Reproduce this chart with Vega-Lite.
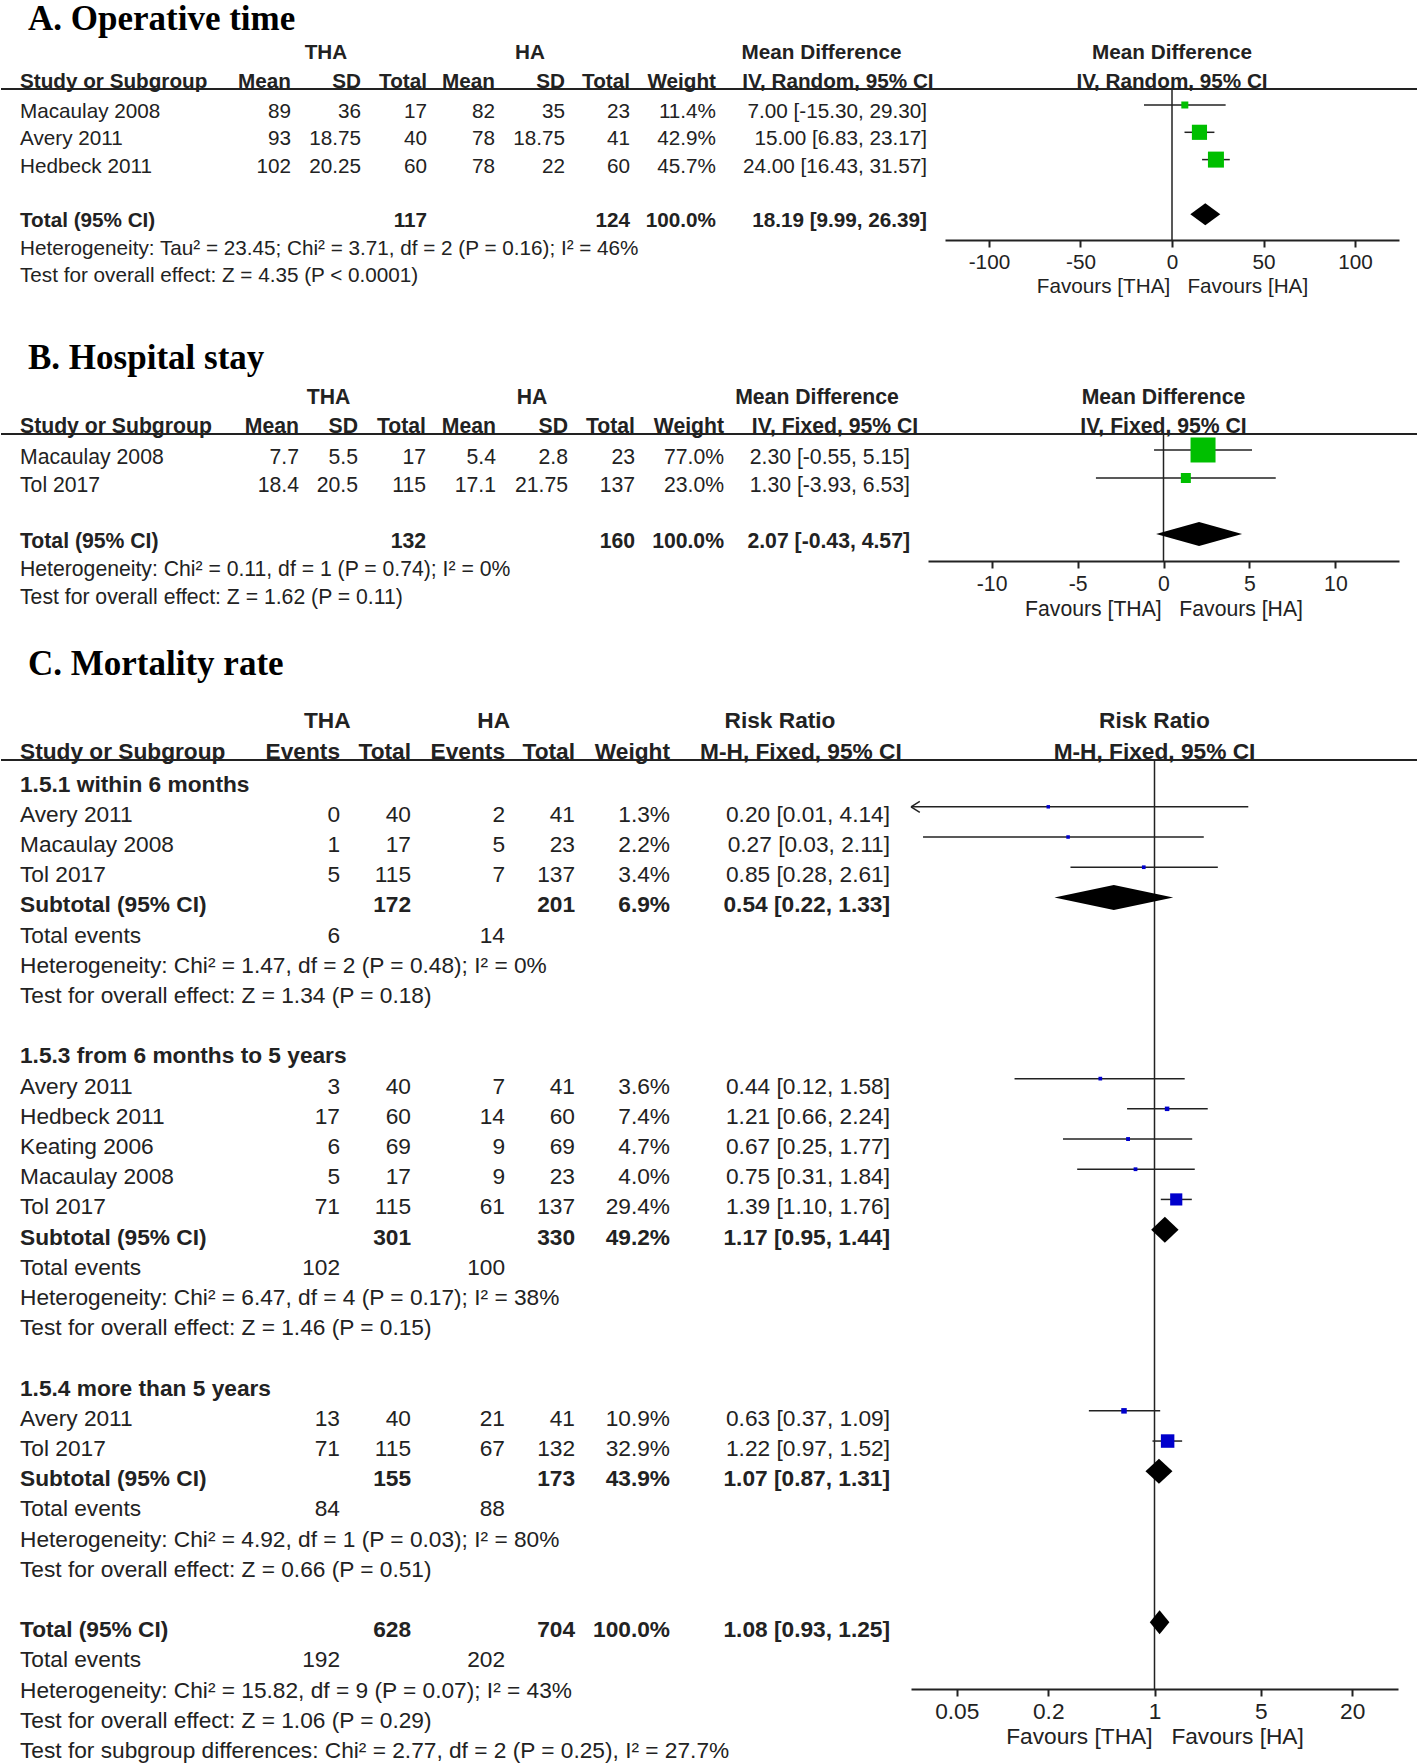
{
"$schema": "https://vega.github.io/schema/vega-lite/v6.json",
"padding": {"top": 2, "left": 0, "right": 0, "bottom": 0},
"bounds": "flush",
"spacing": 194,
"resolve": {"scale": {"size": "independent", "shape": "independent"}},
"config": {
  "view": {"stroke": null},
  "text": {"font": "Liberation Sans", "color": "#222", "baseline": "middle"},
  "axis": {"grid": false, "labelFont": "Liberation Sans", "titleFont": "Liberation Sans", "labelColor": "#222", "titleColor": "#222", "domainColor": "#222", "tickColor": "#222"}
},
"datasets": {
  "A": [
    {"row": 0, "label": "Macaulay 2008", "m1": 89, "sd1": 36, "n1": 17, "m2": 82, "sd2": 35, "n2": 23, "w": 0.114, "ci": "7.00 [-15.30, 29.30]", "est": 7.00, "lo": -15.30, "hi": 29.30, "kind": "study"},
    {"row": 1, "label": "Avery 2011", "m1": 93, "sd1": 18.75, "n1": 40, "m2": 78, "sd2": 18.75, "n2": 41, "w": 0.429, "ci": "15.00 [6.83, 23.17]", "est": 15.00, "lo": 6.83, "hi": 23.17, "kind": "study"},
    {"row": 2, "label": "Hedbeck 2011", "m1": 102, "sd1": 20.25, "n1": 60, "m2": 78, "sd2": 22, "n2": 60, "w": 0.457, "ci": "24.00 [16.43, 31.57]", "est": 24.00, "lo": 16.43, "hi": 31.57, "kind": "study"},
    {"row": 4, "label": "Total (95% CI)", "bold": true, "n1": 117, "n2": 124, "w": 1, "ci": "18.19 [9.99, 26.39]", "est": 18.19, "lo": 9.99, "hi": 26.39, "kind": "sum"},
    {"row": 5, "label": "Heterogeneity: Tau² = 23.45; Chi² = 3.71, df = 2 (P = 0.16); I² = 46%"},
    {"row": 6, "label": "Test for overall effect: Z = 4.35 (P < 0.0001)"}
  ],
  "B": [
    {"row": 0, "label": "Macaulay 2008", "m1": 7.7, "sd1": 5.5, "n1": 17, "m2": 5.4, "sd2": 2.8, "n2": 23, "w": 0.77, "ci": "2.30 [-0.55, 5.15]", "est": 2.30, "lo": -0.55, "hi": 5.15, "kind": "study"},
    {"row": 1, "label": "Tol 2017", "m1": 18.4, "sd1": 20.5, "n1": 115, "m2": 17.1, "sd2": 21.75, "n2": 137, "w": 0.23, "ci": "1.30 [-3.93, 6.53]", "est": 1.30, "lo": -3.93, "hi": 6.53, "kind": "study"},
    {"row": 3, "label": "Total (95% CI)", "bold": true, "n1": 132, "n2": 160, "w": 1, "ci": "2.07 [-0.43, 4.57]", "est": 2.07, "lo": -0.43, "hi": 4.57, "kind": "sum"},
    {"row": 4, "label": "Heterogeneity: Chi² = 0.11, df = 1 (P = 0.74); I² = 0%"},
    {"row": 5, "label": "Test for overall effect: Z = 1.62 (P = 0.11)"}
  ],
  "C": [
    {"row": 0, "label": "1.5.1 within 6 months", "bold": true},
    {"row": 1, "label": "Avery 2011", "ev1": 0, "n1": 40, "ev2": 2, "n2": 41, "w": 0.013, "ci": "0.20 [0.01, 4.14]", "est": 0.20, "lo": 0.01, "hi": 4.14, "kind": "study"},
    {"row": 2, "label": "Macaulay 2008", "ev1": 1, "n1": 17, "ev2": 5, "n2": 23, "w": 0.022, "ci": "0.27 [0.03, 2.11]", "est": 0.27, "lo": 0.03, "hi": 2.11, "kind": "study"},
    {"row": 3, "label": "Tol 2017", "ev1": 5, "n1": 115, "ev2": 7, "n2": 137, "w": 0.034, "ci": "0.85 [0.28, 2.61]", "est": 0.85, "lo": 0.28, "hi": 2.61, "kind": "study"},
    {"row": 4, "label": "Subtotal (95% CI)", "bold": true, "n1": 172, "n2": 201, "w": 0.069, "ci": "0.54 [0.22, 1.33]", "est": 0.54, "lo": 0.22, "hi": 1.33, "kind": "sum"},
    {"row": 5, "label": "Total events", "ev1": 6, "ev2": 14},
    {"row": 6, "label": "Heterogeneity: Chi² = 1.47, df = 2 (P = 0.48); I² = 0%"},
    {"row": 7, "label": "Test for overall effect: Z = 1.34 (P = 0.18)"},
    {"row": 9, "label": "1.5.3 from 6 months to 5 years", "bold": true},
    {"row": 10, "label": "Avery 2011", "ev1": 3, "n1": 40, "ev2": 7, "n2": 41, "w": 0.036, "ci": "0.44 [0.12, 1.58]", "est": 0.44, "lo": 0.12, "hi": 1.58, "kind": "study"},
    {"row": 11, "label": "Hedbeck 2011", "ev1": 17, "n1": 60, "ev2": 14, "n2": 60, "w": 0.074, "ci": "1.21 [0.66, 2.24]", "est": 1.21, "lo": 0.66, "hi": 2.24, "kind": "study"},
    {"row": 12, "label": "Keating 2006", "ev1": 6, "n1": 69, "ev2": 9, "n2": 69, "w": 0.047, "ci": "0.67 [0.25, 1.77]", "est": 0.67, "lo": 0.25, "hi": 1.77, "kind": "study"},
    {"row": 13, "label": "Macaulay 2008", "ev1": 5, "n1": 17, "ev2": 9, "n2": 23, "w": 0.040, "ci": "0.75 [0.31, 1.84]", "est": 0.75, "lo": 0.31, "hi": 1.84, "kind": "study"},
    {"row": 14, "label": "Tol 2017", "ev1": 71, "n1": 115, "ev2": 61, "n2": 137, "w": 0.294, "ci": "1.39 [1.10, 1.76]", "est": 1.39, "lo": 1.10, "hi": 1.76, "kind": "study"},
    {"row": 15, "label": "Subtotal (95% CI)", "bold": true, "n1": 301, "n2": 330, "w": 0.492, "ci": "1.17 [0.95, 1.44]", "est": 1.17, "lo": 0.95, "hi": 1.44, "kind": "sum"},
    {"row": 16, "label": "Total events", "ev1": 102, "ev2": 100},
    {"row": 17, "label": "Heterogeneity: Chi² = 6.47, df = 4 (P = 0.17); I² = 38%"},
    {"row": 18, "label": "Test for overall effect: Z = 1.46 (P = 0.15)"},
    {"row": 20, "label": "1.5.4 more than 5 years", "bold": true},
    {"row": 21, "label": "Avery 2011", "ev1": 13, "n1": 40, "ev2": 21, "n2": 41, "w": 0.109, "ci": "0.63 [0.37, 1.09]", "est": 0.63, "lo": 0.37, "hi": 1.09, "kind": "study"},
    {"row": 22, "label": "Tol 2017", "ev1": 71, "n1": 115, "ev2": 67, "n2": 132, "w": 0.329, "ci": "1.22 [0.97, 1.52]", "est": 1.22, "lo": 0.97, "hi": 1.52, "kind": "study"},
    {"row": 23, "label": "Subtotal (95% CI)", "bold": true, "n1": 155, "n2": 173, "w": 0.439, "ci": "1.07 [0.87, 1.31]", "est": 1.07, "lo": 0.87, "hi": 1.31, "kind": "sum"},
    {"row": 24, "label": "Total events", "ev1": 84, "ev2": 88},
    {"row": 25, "label": "Heterogeneity: Chi² = 4.92, df = 1 (P = 0.03); I² = 80%"},
    {"row": 26, "label": "Test for overall effect: Z = 0.66 (P = 0.51)"},
    {"row": 28, "label": "Total (95% CI)", "bold": true, "n1": 628, "n2": 704, "w": 1, "ci": "1.08 [0.93, 1.25]", "est": 1.08, "lo": 0.93, "hi": 1.25, "kind": "sum"},
    {"row": 29, "label": "Total events", "ev1": 192, "ev2": 202},
    {"row": 30, "label": "Heterogeneity: Chi² = 15.82, df = 9 (P = 0.07); I² = 43%"},
    {"row": 31, "label": "Test for overall effect: Z = 1.06 (P = 0.29)"},
    {"row": 32, "label": "Test for subgroup differences: Chi² = 2.77, df = 2 (P = 0.25), I² = 27.7%"}
  ]
},
"vconcat": [
{
  "width": 1416, "height": 151,
  "resolve": {"scale": {"x": "independent"}},
  "layer": [
    {"data": {"values": [{}]}, "mark": {"type": "text", "align": "left", "dx": 8, "font": "Liberation Serif", "fontSize": 35, "fontWeight": "bold", "color": "#000"},
     "encoding": {"x": {"datum": 0, "type": "quantitative", "scale": {"type": "linear", "domain": [0, 1, 2, 3, 4, 5, 6, 7, 8], "range": [19, 290, 360, 426, 494, 564, 629, 715, 926], "nice": false, "zero": false}, "axis": null}, "y": {"datum": -3.15, "type": "quantitative", "axis": null}, "text": {"value": "A. Operative time"}}},
    {"data": {"values": [{}]}, "mark": {"type": "rule", "color": "#222", "strokeWidth": 2},
     "encoding": {"y": {"datum": -0.586, "type": "quantitative", "axis": null}}},
    {"data": {"name": "A"}, "transform": [{"filter": "isValid(datum.label)"}],
     "mark": {"type": "text", "align": "left", "dy": 7, "fontSize": 20.7, "fontWeight": {"expr": "datum.bold ? 'bold' : 'normal'"}},
     "encoding": {
       "x": {"datum": 0, "type": "quantitative", "scale": {"type": "linear", "domain": [0, 1, 2, 3, 4, 5, 6, 7, 8], "range": [19, 290, 360, 426, 494, 564, 629, 715, 926], "nice": false, "zero": false}, "axis": null},
       "y": {"field": "row", "type": "quantitative", "scale": {"domain": [-0.586, 4.945], "reverse": true, "nice": false, "zero": false}, "axis": null},
       "text": {"field": "label", "type": "nominal"}}},
    {"data": {"name": "A"}, "transform": [{"filter": "isValid(datum.m1)"}], "mark": {"type": "text", "align": "right", "dy": 7, "fontSize": 20.7},
     "encoding": {"x": {"datum": 1, "type": "quantitative", "scale": {"type": "linear", "domain": [0, 1, 2, 3, 4, 5, 6, 7, 8], "range": [19, 290, 360, 426, 494, 564, 629, 715, 926], "nice": false, "zero": false}, "axis": null}, "y": {"field": "row", "type": "quantitative", "axis": null}, "text": {"field": "m1", "type": "nominal"}}},
    {"data": {"name": "A"}, "transform": [{"filter": "isValid(datum.sd1)"}], "mark": {"type": "text", "align": "right", "dy": 7, "fontSize": 20.7},
     "encoding": {"x": {"datum": 2, "type": "quantitative", "scale": {"type": "linear", "domain": [0, 1, 2, 3, 4, 5, 6, 7, 8], "range": [19, 290, 360, 426, 494, 564, 629, 715, 926], "nice": false, "zero": false}, "axis": null}, "y": {"field": "row", "type": "quantitative", "axis": null}, "text": {"field": "sd1", "type": "nominal"}}},
    {"data": {"name": "A"}, "transform": [{"filter": "isValid(datum.n1)"}], "mark": {"type": "text", "align": "right", "dy": 7, "fontSize": 20.7, "fontWeight": {"expr": "datum.bold ? 'bold' : 'normal'"}},
     "encoding": {"x": {"datum": 3, "type": "quantitative", "scale": {"type": "linear", "domain": [0, 1, 2, 3, 4, 5, 6, 7, 8], "range": [19, 290, 360, 426, 494, 564, 629, 715, 926], "nice": false, "zero": false}, "axis": null}, "y": {"field": "row", "type": "quantitative", "axis": null}, "text": {"field": "n1", "type": "nominal"}}},
    {"data": {"name": "A"}, "transform": [{"filter": "isValid(datum.m2)"}], "mark": {"type": "text", "align": "right", "dy": 7, "fontSize": 20.7},
     "encoding": {"x": {"datum": 4, "type": "quantitative", "scale": {"type": "linear", "domain": [0, 1, 2, 3, 4, 5, 6, 7, 8], "range": [19, 290, 360, 426, 494, 564, 629, 715, 926], "nice": false, "zero": false}, "axis": null}, "y": {"field": "row", "type": "quantitative", "axis": null}, "text": {"field": "m2", "type": "nominal"}}},
    {"data": {"name": "A"}, "transform": [{"filter": "isValid(datum.sd2)"}], "mark": {"type": "text", "align": "right", "dy": 7, "fontSize": 20.7},
     "encoding": {"x": {"datum": 5, "type": "quantitative", "scale": {"type": "linear", "domain": [0, 1, 2, 3, 4, 5, 6, 7, 8], "range": [19, 290, 360, 426, 494, 564, 629, 715, 926], "nice": false, "zero": false}, "axis": null}, "y": {"field": "row", "type": "quantitative", "axis": null}, "text": {"field": "sd2", "type": "nominal"}}},
    {"data": {"name": "A"}, "transform": [{"filter": "isValid(datum.n2)"}], "mark": {"type": "text", "align": "right", "dy": 7, "fontSize": 20.7, "fontWeight": {"expr": "datum.bold ? 'bold' : 'normal'"}},
     "encoding": {"x": {"datum": 6, "type": "quantitative", "scale": {"type": "linear", "domain": [0, 1, 2, 3, 4, 5, 6, 7, 8], "range": [19, 290, 360, 426, 494, 564, 629, 715, 926], "nice": false, "zero": false}, "axis": null}, "y": {"field": "row", "type": "quantitative", "axis": null}, "text": {"field": "n2", "type": "nominal"}}},
    {"data": {"name": "A"}, "transform": [{"filter": "isValid(datum.w)"}], "mark": {"type": "text", "align": "right", "dy": 7, "fontSize": 20.7, "fontWeight": {"expr": "datum.bold ? 'bold' : 'normal'"}},
     "encoding": {"x": {"datum": 7, "type": "quantitative", "scale": {"type": "linear", "domain": [0, 1, 2, 3, 4, 5, 6, 7, 8], "range": [19, 290, 360, 426, 494, 564, 629, 715, 926], "nice": false, "zero": false}, "axis": null}, "y": {"field": "row", "type": "quantitative", "axis": null}, "text": {"field": "w", "type": "quantitative", "format": ".1%"}}},
    {"data": {"name": "A"}, "transform": [{"filter": "isValid(datum.ci)"}], "mark": {"type": "text", "align": "right", "dy": 7, "fontSize": 20.7, "fontWeight": {"expr": "datum.bold ? 'bold' : 'normal'"}},
     "encoding": {"x": {"datum": 8, "type": "quantitative", "scale": {"type": "linear", "domain": [0, 1, 2, 3, 4, 5, 6, 7, 8], "range": [19, 290, 360, 426, 494, 564, 629, 715, 926], "nice": false, "zero": false}, "axis": null}, "y": {"field": "row", "type": "quantitative", "axis": null}, "text": {"field": "ci", "type": "nominal"}}},
    {"data": {"values": [{"t": "THA", "s": 1.5}, {"t": "HA", "s": 4.5}, {"t": "Mean Difference", "s": 7.5}]}, "mark": {"type": "text", "align": "center", "fontSize": 20.7, "fontWeight": "bold"},
     "encoding": {"x": {"field": "s", "type": "quantitative", "scale": {"type": "linear", "domain": [0, 1, 2, 3, 4, 5, 6, 7, 8], "range": [19, 290, 360, 426, 494, 564, 629, 715, 926], "nice": false, "zero": false}, "axis": null}, "y": {"datum": -1.905, "type": "quantitative", "axis": null}, "text": {"field": "t", "type": "nominal"}}},
    {"data": {"values": [{"t": "Study or Subgroup", "s": 0}]}, "mark": {"type": "text", "align": "left", "baseline": "alphabetic", "dy": -1, "fontSize": 20.7, "fontWeight": "bold"},
     "encoding": {"x": {"field": "s", "type": "quantitative", "scale": {"type": "linear", "domain": [0, 1, 2, 3, 4, 5, 6, 7, 8], "range": [19, 290, 360, 426, 494, 564, 629, 715, 926], "nice": false, "zero": false}, "axis": null}, "y": {"datum": -0.586, "type": "quantitative", "axis": null}, "text": {"field": "t", "type": "nominal"}}},
    {"data": {"values": [{"t": "Mean", "s": 1}, {"t": "SD", "s": 2}, {"t": "Total", "s": 3}, {"t": "Mean", "s": 4}, {"t": "SD", "s": 5}, {"t": "Total", "s": 6}, {"t": "Weight", "s": 7}]}, "mark": {"type": "text", "align": "right", "baseline": "alphabetic", "dy": -1, "fontSize": 20.7, "fontWeight": "bold"},
     "encoding": {"x": {"field": "s", "type": "quantitative", "scale": {"type": "linear", "domain": [0, 1, 2, 3, 4, 5, 6, 7, 8], "range": [19, 290, 360, 426, 494, 564, 629, 715, 926], "nice": false, "zero": false}, "axis": null}, "y": {"datum": -0.586, "type": "quantitative", "axis": null}, "text": {"field": "t", "type": "nominal"}}},
    {"data": {"values": [{"t": "IV, Random, 95% CI", "s": 7.578}]}, "mark": {"type": "text", "align": "center", "baseline": "alphabetic", "dy": -1, "fontSize": 20.7, "fontWeight": "bold"},
     "encoding": {"x": {"field": "s", "type": "quantitative", "scale": {"type": "linear", "domain": [0, 1, 2, 3, 4, 5, 6, 7, 8], "range": [19, 290, 360, 426, 494, 564, 629, 715, 926], "nice": false, "zero": false}, "axis": null}, "y": {"datum": -0.586, "type": "quantitative", "axis": null}, "text": {"field": "t", "type": "nominal"}}},
    {"data": {"name": "A"}, "transform": [{"filter": "datum.kind == 'study'"}], "mark": {"type": "rule", "color": "#222", "strokeWidth": 1.5},
     "encoding": {"x": {"field": "lo", "type": "quantitative",
       "scale": {"type": "linear", "domain": [-124, 124], "range": [944, 1398], "nice": false, "zero": false},
       "axis": {"orient": "bottom", "values": [-100, -50, 0, 50, 100], "labelExpr": "'' + datum.value", "domainWidth": 2, "tickWidth": 2, "tickSize": 7, "labelFontSize": 20.7, "labelPadding": 5, "labelFlush": false, "labelOverlap": false, "title": "Favours [THA]\u00a0\u00a0 Favours [HA]", "titleFontSize": 20.7, "titleFontWeight": "normal", "titlePadding": 5}},
       "x2": {"field": "hi"}, "y": {"field": "row", "type": "quantitative", "axis": null}}},
    {"data": {"values": [{}]}, "mark": {"type": "rule", "color": "#222", "strokeWidth": 1.5},
     "encoding": {"x": {"datum": 0, "type": "quantitative", "scale": {"type": "linear", "domain": [-124, 124], "range": [944, 1398], "nice": false, "zero": false}, "axis": null}}},
    {"data": {"name": "A"}, "transform": [{"filter": "datum.kind == 'study'"}], "mark": {"type": "square", "color": "#00bf00", "opacity": 1},
     "encoding": {"x": {"field": "est", "type": "quantitative", "scale": {"type": "linear", "domain": [-124, 124], "range": [944, 1398], "nice": false, "zero": false}, "axis": null}, "y": {"field": "row", "type": "quantitative", "axis": null},
       "size": {"field": "w", "type": "quantitative", "scale": {"type": "pow", "exponent": 2, "domain": [0.114, 0.457], "range": [49, 256]}, "legend": null}}},
    {"data": {"name": "A"}, "transform": [{"filter": "datum.kind == 'sum'"}],
     "mark": {"type": "point", "filled": true, "size": 4, "color": "#000", "opacity": 1},
     "encoding": {"x": {"field": "est", "type": "quantitative", "scale": {"type": "linear", "domain": [-124, 124], "range": [944, 1398], "nice": false, "zero": false}, "axis": null}, "y": {"field": "row", "type": "quantitative", "axis": null},
       "shape": {"field": "row", "type": "nominal", "scale": {"domain": [4], "range": ["M-15,0L0,-11L15,0L0,11Z"]}, "legend": null}}},
    {"data": {"values": [{"t": "Mean Difference", "v": 0}]}, "mark": {"type": "text", "align": "center", "fontSize": 20.7, "fontWeight": "bold"},
     "encoding": {"x": {"field": "v", "type": "quantitative", "scale": {"type": "linear", "domain": [-124, 124], "range": [944, 1398], "nice": false, "zero": false}, "axis": null}, "y": {"datum": -1.905, "type": "quantitative", "axis": null}, "text": {"field": "t", "type": "nominal"}}},
    {"data": {"values": [{"t": "IV, Random, 95% CI", "v": 0}]}, "mark": {"type": "text", "align": "center", "baseline": "alphabetic", "dy": -1, "fontSize": 20.7, "fontWeight": "bold"},
     "encoding": {"x": {"field": "v", "type": "quantitative", "scale": {"type": "linear", "domain": [-124, 124], "range": [944, 1398], "nice": false, "zero": false}, "axis": null}, "y": {"datum": -0.586, "type": "quantitative", "axis": null}, "text": {"field": "t", "type": "nominal"}}}
  ]
},
{
  "bounds": "flush",
  "spacing": 199,
  "resolve": {"scale": {"size": "independent", "shape": "independent"}},
  "vconcat": [
  {
    "width": 1416, "height": 127,
    "resolve": {"scale": {"x": "independent"}},
    "layer": [
      {"data": {"values": [{}]}, "mark": {"type": "text", "align": "left", "dx": 8, "font": "Liberation Serif", "fontSize": 35, "fontWeight": "bold", "color": "#000"},
       "encoding": {"x": {"datum": 0, "type": "quantitative", "scale": {"type": "linear", "domain": [0, 1, 2, 3, 4, 5, 6, 7, 8], "range": [19, 298, 357, 425, 495, 567, 634, 723, 909], "nice": false, "zero": false}, "axis": null}, "y": {"datum": -3.29, "type": "quantitative", "axis": null}, "text": {"value": "B. Hospital stay"}}},
      {"data": {"values": [{}]}, "mark": {"type": "rule", "color": "#222", "strokeWidth": 2},
       "encoding": {"y": {"datum": -0.571, "type": "quantitative", "axis": null}}},
      {"data": {"name": "B"}, "transform": [{"filter": "isValid(datum.label)"}],
       "mark": {"type": "text", "align": "left", "dy": 8, "fontSize": 21.2, "fontWeight": {"expr": "datum.bold ? 'bold' : 'normal'"}},
       "encoding": {
         "x": {"datum": 0, "type": "quantitative", "scale": {"type": "linear", "domain": [0, 1, 2, 3, 4, 5, 6, 7, 8], "range": [19, 298, 357, 425, 495, 567, 634, 723, 909], "nice": false, "zero": false}, "axis": null},
         "y": {"field": "row", "type": "quantitative", "scale": {"domain": [-0.571, 3.964], "reverse": true, "nice": false, "zero": false}, "axis": null},
         "text": {"field": "label", "type": "nominal"}}},
      {"data": {"name": "B"}, "transform": [{"filter": "isValid(datum.m1)"}], "mark": {"type": "text", "align": "right", "dy": 8, "fontSize": 21.2},
       "encoding": {"x": {"datum": 1, "type": "quantitative", "scale": {"type": "linear", "domain": [0, 1, 2, 3, 4, 5, 6, 7, 8], "range": [19, 298, 357, 425, 495, 567, 634, 723, 909], "nice": false, "zero": false}, "axis": null}, "y": {"field": "row", "type": "quantitative", "axis": null}, "text": {"field": "m1", "type": "nominal"}}},
      {"data": {"name": "B"}, "transform": [{"filter": "isValid(datum.sd1)"}], "mark": {"type": "text", "align": "right", "dy": 8, "fontSize": 21.2},
       "encoding": {"x": {"datum": 2, "type": "quantitative", "scale": {"type": "linear", "domain": [0, 1, 2, 3, 4, 5, 6, 7, 8], "range": [19, 298, 357, 425, 495, 567, 634, 723, 909], "nice": false, "zero": false}, "axis": null}, "y": {"field": "row", "type": "quantitative", "axis": null}, "text": {"field": "sd1", "type": "nominal"}}},
      {"data": {"name": "B"}, "transform": [{"filter": "isValid(datum.n1)"}], "mark": {"type": "text", "align": "right", "dy": 8, "fontSize": 21.2, "fontWeight": {"expr": "datum.bold ? 'bold' : 'normal'"}},
       "encoding": {"x": {"datum": 3, "type": "quantitative", "scale": {"type": "linear", "domain": [0, 1, 2, 3, 4, 5, 6, 7, 8], "range": [19, 298, 357, 425, 495, 567, 634, 723, 909], "nice": false, "zero": false}, "axis": null}, "y": {"field": "row", "type": "quantitative", "axis": null}, "text": {"field": "n1", "type": "nominal"}}},
      {"data": {"name": "B"}, "transform": [{"filter": "isValid(datum.m2)"}], "mark": {"type": "text", "align": "right", "dy": 8, "fontSize": 21.2},
       "encoding": {"x": {"datum": 4, "type": "quantitative", "scale": {"type": "linear", "domain": [0, 1, 2, 3, 4, 5, 6, 7, 8], "range": [19, 298, 357, 425, 495, 567, 634, 723, 909], "nice": false, "zero": false}, "axis": null}, "y": {"field": "row", "type": "quantitative", "axis": null}, "text": {"field": "m2", "type": "nominal"}}},
      {"data": {"name": "B"}, "transform": [{"filter": "isValid(datum.sd2)"}], "mark": {"type": "text", "align": "right", "dy": 8, "fontSize": 21.2},
       "encoding": {"x": {"datum": 5, "type": "quantitative", "scale": {"type": "linear", "domain": [0, 1, 2, 3, 4, 5, 6, 7, 8], "range": [19, 298, 357, 425, 495, 567, 634, 723, 909], "nice": false, "zero": false}, "axis": null}, "y": {"field": "row", "type": "quantitative", "axis": null}, "text": {"field": "sd2", "type": "nominal"}}},
      {"data": {"name": "B"}, "transform": [{"filter": "isValid(datum.n2)"}], "mark": {"type": "text", "align": "right", "dy": 8, "fontSize": 21.2, "fontWeight": {"expr": "datum.bold ? 'bold' : 'normal'"}},
       "encoding": {"x": {"datum": 6, "type": "quantitative", "scale": {"type": "linear", "domain": [0, 1, 2, 3, 4, 5, 6, 7, 8], "range": [19, 298, 357, 425, 495, 567, 634, 723, 909], "nice": false, "zero": false}, "axis": null}, "y": {"field": "row", "type": "quantitative", "axis": null}, "text": {"field": "n2", "type": "nominal"}}},
      {"data": {"name": "B"}, "transform": [{"filter": "isValid(datum.w)"}], "mark": {"type": "text", "align": "right", "dy": 8, "fontSize": 21.2, "fontWeight": {"expr": "datum.bold ? 'bold' : 'normal'"}},
       "encoding": {"x": {"datum": 7, "type": "quantitative", "scale": {"type": "linear", "domain": [0, 1, 2, 3, 4, 5, 6, 7, 8], "range": [19, 298, 357, 425, 495, 567, 634, 723, 909], "nice": false, "zero": false}, "axis": null}, "y": {"field": "row", "type": "quantitative", "axis": null}, "text": {"field": "w", "type": "quantitative", "format": ".1%"}}},
      {"data": {"name": "B"}, "transform": [{"filter": "isValid(datum.ci)"}], "mark": {"type": "text", "align": "right", "dy": 8, "fontSize": 21.2, "fontWeight": {"expr": "datum.bold ? 'bold' : 'normal'"}},
       "encoding": {"x": {"datum": 8, "type": "quantitative", "scale": {"type": "linear", "domain": [0, 1, 2, 3, 4, 5, 6, 7, 8], "range": [19, 298, 357, 425, 495, 567, 634, 723, 909], "nice": false, "zero": false}, "axis": null}, "y": {"field": "row", "type": "quantitative", "axis": null}, "text": {"field": "ci", "type": "nominal"}}},
      {"data": {"values": [{"t": "THA", "s": 1.5}, {"t": "HA", "s": 4.5}, {"t": "Mean Difference", "s": 7.5}]}, "mark": {"type": "text", "align": "center", "fontSize": 21.2, "fontWeight": "bold"},
       "encoding": {"x": {"field": "s", "type": "quantitative", "scale": {"type": "linear", "domain": [0, 1, 2, 3, 4, 5, 6, 7, 8], "range": [19, 298, 357, 425, 495, 567, 634, 723, 909], "nice": false, "zero": false}, "axis": null}, "y": {"datum": -1.857, "type": "quantitative", "axis": null}, "text": {"field": "t", "type": "nominal"}}},
      {"data": {"values": [{"t": "Study or Subgroup", "s": 0}]}, "mark": {"type": "text", "align": "left", "baseline": "alphabetic", "dy": -1, "fontSize": 21.2, "fontWeight": "bold"},
       "encoding": {"x": {"field": "s", "type": "quantitative", "scale": {"type": "linear", "domain": [0, 1, 2, 3, 4, 5, 6, 7, 8], "range": [19, 298, 357, 425, 495, 567, 634, 723, 909], "nice": false, "zero": false}, "axis": null}, "y": {"datum": -0.571, "type": "quantitative", "axis": null}, "text": {"field": "t", "type": "nominal"}}},
      {"data": {"values": [{"t": "Mean", "s": 1}, {"t": "SD", "s": 2}, {"t": "Total", "s": 3}, {"t": "Mean", "s": 4}, {"t": "SD", "s": 5}, {"t": "Total", "s": 6}, {"t": "Weight", "s": 7}]}, "mark": {"type": "text", "align": "right", "baseline": "alphabetic", "dy": -1, "fontSize": 21.2, "fontWeight": "bold"},
       "encoding": {"x": {"field": "s", "type": "quantitative", "scale": {"type": "linear", "domain": [0, 1, 2, 3, 4, 5, 6, 7, 8], "range": [19, 298, 357, 425, 495, 567, 634, 723, 909], "nice": false, "zero": false}, "axis": null}, "y": {"datum": -0.571, "type": "quantitative", "axis": null}, "text": {"field": "t", "type": "nominal"}}},
      {"data": {"values": [{"t": "IV, Fixed, 95% CI", "s": 7.597}]}, "mark": {"type": "text", "align": "center", "baseline": "alphabetic", "dy": -1, "fontSize": 21.2, "fontWeight": "bold"},
       "encoding": {"x": {"field": "s", "type": "quantitative", "scale": {"type": "linear", "domain": [0, 1, 2, 3, 4, 5, 6, 7, 8], "range": [19, 298, 357, 425, 495, 567, 634, 723, 909], "nice": false, "zero": false}, "axis": null}, "y": {"datum": -0.571, "type": "quantitative", "axis": null}, "text": {"field": "t", "type": "nominal"}}},
      {"data": {"name": "B"}, "transform": [{"filter": "datum.kind == 'study'"}], "mark": {"type": "rule", "color": "#222", "strokeWidth": 1.5},
       "encoding": {"x": {"field": "lo", "type": "quantitative",
         "scale": {"type": "linear", "domain": [-13.7, 13.7], "range": [927, 1398], "nice": false, "zero": false},
         "axis": {"orient": "bottom", "values": [-10, -5, 0, 5, 10], "labelExpr": "'' + datum.value", "domainWidth": 2, "tickWidth": 2, "tickSize": 7, "labelFontSize": 21.2, "labelPadding": 5, "labelFlush": false, "labelOverlap": false, "title": "Favours [THA]\u00a0\u00a0 Favours [HA]", "titleFontSize": 21.2, "titleFontWeight": "normal", "titlePadding": 4}},
         "x2": {"field": "hi"}, "y": {"field": "row", "type": "quantitative", "axis": null}}},
      {"data": {"values": [{}]}, "mark": {"type": "rule", "color": "#222", "strokeWidth": 1.5},
       "encoding": {"x": {"datum": 0, "type": "quantitative", "scale": {"type": "linear", "domain": [-13.7, 13.7], "range": [927, 1398], "nice": false, "zero": false}, "axis": null}}},
      {"data": {"name": "B"}, "transform": [{"filter": "datum.kind == 'study'"}], "mark": {"type": "square", "color": "#00bf00", "opacity": 1},
       "encoding": {"x": {"field": "est", "type": "quantitative", "scale": {"type": "linear", "domain": [-13.7, 13.7], "range": [927, 1398], "nice": false, "zero": false}, "axis": null}, "y": {"field": "row", "type": "quantitative", "axis": null},
         "size": {"field": "w", "type": "quantitative", "scale": {"domain": [0.23, 0.77], "range": [100, 625], "zero": false}, "legend": null}}},
      {"data": {"name": "B"}, "transform": [{"filter": "datum.kind == 'sum'"}],
       "mark": {"type": "point", "filled": true, "size": 4, "color": "#000", "opacity": 1},
       "encoding": {"x": {"field": "est", "type": "quantitative", "scale": {"type": "linear", "domain": [-13.7, 13.7], "range": [927, 1398], "nice": false, "zero": false}, "axis": null}, "y": {"field": "row", "type": "quantitative", "axis": null},
         "shape": {"field": "row", "type": "nominal", "scale": {"domain": [3], "range": ["M-43,0L0,-12L43,0L0,12Z"]}, "legend": null}}},
      {"data": {"values": [{"t": "Mean Difference", "v": 0}]}, "mark": {"type": "text", "align": "center", "fontSize": 21.2, "fontWeight": "bold"},
       "encoding": {"x": {"field": "v", "type": "quantitative", "scale": {"type": "linear", "domain": [-13.7, 13.7], "range": [927, 1398], "nice": false, "zero": false}, "axis": null}, "y": {"datum": -1.857, "type": "quantitative", "axis": null}, "text": {"field": "t", "type": "nominal"}}},
      {"data": {"values": [{"t": "IV, Fixed, 95% CI", "v": 0}]}, "mark": {"type": "text", "align": "center", "baseline": "alphabetic", "dy": -1, "fontSize": 21.2, "fontWeight": "bold"},
       "encoding": {"x": {"field": "v", "type": "quantitative", "scale": {"type": "linear", "domain": [-13.7, 13.7], "range": [927, 1398], "nice": false, "zero": false}, "axis": null}, "y": {"datum": -0.571, "type": "quantitative", "axis": null}, "text": {"field": "t", "type": "nominal"}}}
    ]
  },
  {
    "width": 1416, "height": 929,
    "resolve": {"scale": {"x": "independent"}},
    "layer": [
      {"data": {"values": [{}]}, "mark": {"type": "text", "align": "left", "dx": 8, "font": "Liberation Serif", "fontSize": 35, "fontWeight": "bold", "color": "#000"},
       "encoding": {"x": {"datum": 0, "type": "quantitative", "scale": {"type": "linear", "domain": [0, 1, 2, 3, 4, 5, 6], "range": [19, 339, 410, 504, 574, 669, 889], "nice": false, "zero": false}, "axis": null}, "y": {"datum": -3.73, "type": "quantitative", "axis": null}, "text": {"value": "C. Mortality rate"}}},
      {"data": {"values": [{}]}, "mark": {"type": "rule", "color": "#222", "strokeWidth": 2},
       "encoding": {"y": {"datum": -0.55, "type": "quantitative", "axis": null}}},
      {"data": {"name": "C"}, "transform": [{"filter": "isValid(datum.label)"}],
       "mark": {"type": "text", "align": "left", "dy": 8, "fontSize": 22.7, "fontWeight": {"expr": "datum.bold ? 'bold' : 'normal'"}},
       "encoding": {
         "x": {"datum": 0, "type": "quantitative", "scale": {"type": "linear", "domain": [0, 1, 2, 3, 4, 5, 6], "range": [19, 339, 410, 504, 574, 669, 889], "nice": false, "zero": false}, "axis": null},
         "y": {"field": "row", "type": "quantitative", "scale": {"domain": [-0.55, 30.21], "reverse": true, "nice": false, "zero": false}, "axis": null},
         "text": {"field": "label", "type": "nominal"}}},
      {"data": {"name": "C"}, "transform": [{"filter": "isValid(datum.ev1)"}], "mark": {"type": "text", "align": "right", "dy": 8, "fontSize": 22.7},
       "encoding": {"x": {"datum": 1, "type": "quantitative", "scale": {"type": "linear", "domain": [0, 1, 2, 3, 4, 5, 6], "range": [19, 339, 410, 504, 574, 669, 889], "nice": false, "zero": false}, "axis": null}, "y": {"field": "row", "type": "quantitative", "axis": null}, "text": {"field": "ev1", "type": "nominal"}}},
      {"data": {"name": "C"}, "transform": [{"filter": "isValid(datum.n1)"}], "mark": {"type": "text", "align": "right", "dy": 8, "fontSize": 22.7, "fontWeight": {"expr": "datum.bold ? 'bold' : 'normal'"}},
       "encoding": {"x": {"datum": 2, "type": "quantitative", "scale": {"type": "linear", "domain": [0, 1, 2, 3, 4, 5, 6], "range": [19, 339, 410, 504, 574, 669, 889], "nice": false, "zero": false}, "axis": null}, "y": {"field": "row", "type": "quantitative", "axis": null}, "text": {"field": "n1", "type": "nominal"}}},
      {"data": {"name": "C"}, "transform": [{"filter": "isValid(datum.ev2)"}], "mark": {"type": "text", "align": "right", "dy": 8, "fontSize": 22.7},
       "encoding": {"x": {"datum": 3, "type": "quantitative", "scale": {"type": "linear", "domain": [0, 1, 2, 3, 4, 5, 6], "range": [19, 339, 410, 504, 574, 669, 889], "nice": false, "zero": false}, "axis": null}, "y": {"field": "row", "type": "quantitative", "axis": null}, "text": {"field": "ev2", "type": "nominal"}}},
      {"data": {"name": "C"}, "transform": [{"filter": "isValid(datum.n2)"}], "mark": {"type": "text", "align": "right", "dy": 8, "fontSize": 22.7, "fontWeight": {"expr": "datum.bold ? 'bold' : 'normal'"}},
       "encoding": {"x": {"datum": 4, "type": "quantitative", "scale": {"type": "linear", "domain": [0, 1, 2, 3, 4, 5, 6], "range": [19, 339, 410, 504, 574, 669, 889], "nice": false, "zero": false}, "axis": null}, "y": {"field": "row", "type": "quantitative", "axis": null}, "text": {"field": "n2", "type": "nominal"}}},
      {"data": {"name": "C"}, "transform": [{"filter": "isValid(datum.w)"}], "mark": {"type": "text", "align": "right", "dy": 8, "fontSize": 22.7, "fontWeight": {"expr": "datum.bold ? 'bold' : 'normal'"}},
       "encoding": {"x": {"datum": 5, "type": "quantitative", "scale": {"type": "linear", "domain": [0, 1, 2, 3, 4, 5, 6], "range": [19, 339, 410, 504, 574, 669, 889], "nice": false, "zero": false}, "axis": null}, "y": {"field": "row", "type": "quantitative", "axis": null}, "text": {"field": "w", "type": "quantitative", "format": ".1%"}}},
      {"data": {"name": "C"}, "transform": [{"filter": "isValid(datum.ci)"}], "mark": {"type": "text", "align": "right", "dy": 8, "fontSize": 22.7, "fontWeight": {"expr": "datum.bold ? 'bold' : 'normal'"}},
       "encoding": {"x": {"datum": 6, "type": "quantitative", "scale": {"type": "linear", "domain": [0, 1, 2, 3, 4, 5, 6], "range": [19, 339, 410, 504, 574, 669, 889], "nice": false, "zero": false}, "axis": null}, "y": {"field": "row", "type": "quantitative", "axis": null}, "text": {"field": "ci", "type": "nominal"}}},
      {"data": {"values": [{"t": "THA", "s": 0.96}, {"t": "HA", "s": 2.88}, {"t": "Risk Ratio", "s": 5.5}]}, "mark": {"type": "text", "align": "center", "fontSize": 22.7, "fontWeight": "bold"},
       "encoding": {"x": {"field": "s", "type": "quantitative", "scale": {"type": "linear", "domain": [0, 1, 2, 3, 4, 5, 6], "range": [19, 339, 410, 504, 574, 669, 889], "nice": false, "zero": false}, "axis": null}, "y": {"datum": -1.844, "type": "quantitative", "axis": null}, "text": {"field": "t", "type": "nominal"}}},
      {"data": {"values": [{"t": "Study or Subgroup", "s": 0}]}, "mark": {"type": "text", "align": "left", "baseline": "alphabetic", "dy": -1, "fontSize": 22.7, "fontWeight": "bold"},
       "encoding": {"x": {"field": "s", "type": "quantitative", "scale": {"type": "linear", "domain": [0, 1, 2, 3, 4, 5, 6], "range": [19, 339, 410, 504, 574, 669, 889], "nice": false, "zero": false}, "axis": null}, "y": {"datum": -0.55, "type": "quantitative", "axis": null}, "text": {"field": "t", "type": "nominal"}}},
      {"data": {"values": [{"t": "Events", "s": 1}, {"t": "Total", "s": 2}, {"t": "Events", "s": 3}, {"t": "Total", "s": 4}, {"t": "Weight", "s": 5}]}, "mark": {"type": "text", "align": "right", "baseline": "alphabetic", "dy": -1, "fontSize": 22.7, "fontWeight": "bold"},
       "encoding": {"x": {"field": "s", "type": "quantitative", "scale": {"type": "linear", "domain": [0, 1, 2, 3, 4, 5, 6], "range": [19, 339, 410, 504, 574, 669, 889], "nice": false, "zero": false}, "axis": null}, "y": {"datum": -0.55, "type": "quantitative", "axis": null}, "text": {"field": "t", "type": "nominal"}}},
      {"data": {"values": [{"t": "M-H, Fixed, 95% CI", "s": 5.595}]}, "mark": {"type": "text", "align": "center", "baseline": "alphabetic", "dy": -1, "fontSize": 22.7, "fontWeight": "bold"},
       "encoding": {"x": {"field": "s", "type": "quantitative", "scale": {"type": "linear", "domain": [0, 1, 2, 3, 4, 5, 6], "range": [19, 339, 410, 504, 574, 669, 889], "nice": false, "zero": false}, "axis": null}, "y": {"datum": -0.55, "type": "quantitative", "axis": null}, "text": {"field": "t", "type": "nominal"}}},
      {"data": {"name": "C"}, "transform": [{"filter": "datum.kind == 'study'"}], "mark": {"type": "rule", "color": "#222", "strokeWidth": 1.5},
       "encoding": {"x": {"field": "lo", "type": "quantitative",
         "scale": {"type": "log", "domain": [0.025, 40], "range": [910, 1397], "nice": false, "clamp": true},
         "axis": {"orient": "bottom", "values": [0.05, 0.2, 1, 5, 20], "labelExpr": "'' + datum.value", "domainWidth": 2, "tickWidth": 2, "tickSize": 7, "labelFontSize": 22.7, "labelPadding": 4, "labelFlush": false, "labelOverlap": false, "title": "Favours [THA]\u00a0\u00a0 Favours [HA]", "titleFontSize": 22.7, "titleFontWeight": "normal", "titlePadding": 3}},
         "x2": {"field": "hi"}, "y": {"field": "row", "type": "quantitative", "axis": null}}},
      {"data": {"values": [{}]}, "mark": {"type": "rule", "color": "#222", "strokeWidth": 1.5},
       "encoding": {"x": {"datum": 1, "type": "quantitative", "scale": {"type": "log", "domain": [0.025, 40], "range": [910, 1397], "nice": false, "clamp": true}, "axis": null}}},
      {"data": {"name": "C"}, "transform": [{"filter": "datum.lo < 0.025"}],
       "mark": {"type": "point", "shape": "M0,0L1.6,-1M0,0L1.6,1", "filled": false, "size": 121, "color": "#222", "strokeWidth": 1.5, "opacity": 1},
       "encoding": {"x": {"field": "lo", "type": "quantitative", "scale": {"type": "log", "domain": [0.025, 40], "range": [910, 1397], "nice": false, "clamp": true}, "axis": null}, "y": {"field": "row", "type": "quantitative", "axis": null}}},
      {"data": {"name": "C"}, "transform": [{"filter": "datum.kind == 'study'"}], "mark": {"type": "square", "color": "#0000cc", "opacity": 1},
       "encoding": {"x": {"field": "est", "type": "quantitative", "scale": {"type": "log", "domain": [0.025, 40], "range": [910, 1397], "nice": false, "clamp": true}, "axis": null}, "y": {"field": "row", "type": "quantitative", "axis": null},
         "size": {"field": "w", "type": "quantitative", "scale": {"type": "pow", "exponent": 2, "domain": [0.013, 0.329], "range": [12, 182], "zero": false}, "legend": null}}},
      {"data": {"name": "C"}, "transform": [{"filter": "datum.kind == 'sum'"}],
       "mark": {"type": "point", "filled": true, "size": 4, "color": "#000", "opacity": 1},
       "encoding": {"x": {"field": "est", "type": "quantitative", "scale": {"type": "log", "domain": [0.025, 40], "range": [910, 1397], "nice": false, "clamp": true}, "axis": null}, "y": {"field": "row", "type": "quantitative", "axis": null},
         "shape": {"field": "row", "type": "nominal", "scale": {"domain": [4, 15, 23, 28], "range": ["M-59.4,0L0,-12.5L59.4,0L0,12.5Z", "M-13.7,0L0,-13L13.7,0L0,13Z", "M-13.5,0L0,-12.5L13.5,0L0,12.5Z", "M-9.8,0L0,-12L9.8,0L0,12Z"]}, "legend": null}}},
      {"data": {"values": [{"t": "Risk Ratio", "v": 1}]}, "mark": {"type": "text", "align": "center", "fontSize": 22.7, "fontWeight": "bold"},
       "encoding": {"x": {"field": "v", "type": "quantitative", "scale": {"type": "log", "domain": [0.025, 40], "range": [910, 1397], "nice": false, "clamp": true}, "axis": null}, "y": {"datum": -1.844, "type": "quantitative", "axis": null}, "text": {"field": "t", "type": "nominal"}}},
      {"data": {"values": [{"t": "M-H, Fixed, 95% CI", "v": 1}]}, "mark": {"type": "text", "align": "center", "baseline": "alphabetic", "dy": -1, "fontSize": 22.7, "fontWeight": "bold"},
       "encoding": {"x": {"field": "v", "type": "quantitative", "scale": {"type": "log", "domain": [0.025, 40], "range": [910, 1397], "nice": false, "clamp": true}, "axis": null}, "y": {"datum": -0.55, "type": "quantitative", "axis": null}, "text": {"field": "t", "type": "nominal"}}}
    ]
  }
  ]
}
]
}
